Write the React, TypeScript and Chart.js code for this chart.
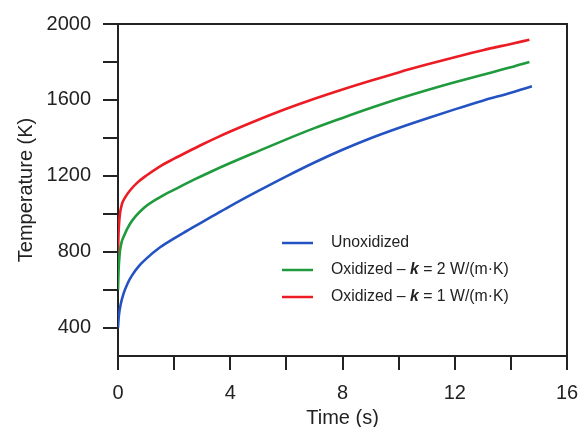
import { useEffect, useRef } from 'react';
import { Chart, registerables } from 'chart.js';
Chart.register(...registerables);

const unoxTime = [0, 0.03, 0.1, 0.2, 0.35, 0.5, 0.75, 1, 1.5, 2, 2.5, 3, 3.5, 4, 5, 6, 7, 8, 9, 10, 11, 12, 13, 14, 14.75];
const unoxTemp = [400, 460, 525, 580, 635, 675, 725, 762, 823, 870, 913, 956, 998, 1040, 1120, 1197, 1270, 1337, 1398, 1452, 1502, 1550, 1596, 1638, 1672];

const k2Time = [0, 0.02, 0.06, 0.12, 0.2, 0.44, 0.91, 1.5, 2.1, 2.69, 3.29, 4, 5, 6, 7, 8, 9, 10, 11, 12, 13, 14, 14.66];
const k2Temp = [600, 700, 790, 845, 879, 950, 1029, 1088, 1134, 1178, 1220, 1267, 1330, 1392, 1451, 1505, 1557, 1606, 1651, 1693, 1733, 1772, 1800];

const k1Time = [0, 0.01, 0.03, 0.07, 0.14, 0.25, 0.44, 0.7, 1, 1.5, 2, 2.5, 3, 3.5, 4, 5, 6, 7, 8, 9, 10, 11, 12, 13, 14, 14.66];
const k1Temp = [750, 850, 930, 1000, 1050, 1085, 1125, 1165, 1200, 1250, 1290, 1328, 1365, 1400, 1433, 1495, 1553, 1606, 1655, 1701, 1745, 1786, 1825, 1862, 1895, 1917];

const xTickValues = [0, 2, 4, 6, 8, 10, 12, 14, 16];
const xLabelValues = [0, 4, 8, 12, 16];
const yTickValues = [400, 600, 800, 1000, 1200, 1400, 1600, 1800, 2000];
const yLabelValues = [400, 800, 1200, 1600, 2000];

const seriesNames = ['Unoxidized', 'Oxidized – k = 2 W/(m·K)', 'Oxidized – k = 1 W/(m·K)'];
const seriesColors = ['#2353c2', '#1f9a3d', '#ec1c24'];

const FONT = '"Liberation Sans", Arial, sans-serif';
const INK = '#222222';

const pts = (t: number[], v: number[]) => t.map((x, i) => ({ x, y: v[i] }));

const framePlugin = {
  id: 'frameAndLegend',
  afterDraw(chart: any) {
    const { ctx, chartArea } = chart;
    const { left, right, top } = chartArea;
    ctx.save();
    ctx.strokeStyle = INK;
    ctx.lineWidth = 2;
    ctx.beginPath();
    ctx.moveTo(left, top);
    ctx.lineTo(right, top);
    ctx.lineTo(right, chartArea.bottom);
    ctx.stroke();

    // legend
    const lx0 = left + 164;
    const lx1 = left + 195;
    const tx = left + 213;
    const rows = [top + 219, top + 246, top + 273];
    const fs = 15.8;
    ctx.textBaseline = 'middle';
    ctx.fillStyle = INK;
    rows.forEach((y, i) => {
      ctx.strokeStyle = seriesColors[i];
      ctx.lineWidth = 2.5;
      ctx.beginPath();
      ctx.moveTo(lx0, y);
      ctx.lineTo(lx1, y);
      ctx.stroke();
      const name = seriesNames[i];
      const kIdx = name.indexOf('k =');
      let x = tx;
      if (kIdx < 0) {
        ctx.font = `${fs}px ${FONT}`;
        ctx.fillText(name, x, y);
      } else {
        const a = name.slice(0, kIdx);
        const b = 'k';
        const c = name.slice(kIdx + 1);
        ctx.font = `${fs}px ${FONT}`;
        ctx.fillText(a, x, y);
        x += ctx.measureText(a).width;
        ctx.font = `italic bold ${fs}px ${FONT}`;
        ctx.fillText(b, x, y);
        x += ctx.measureText(b).width;
        ctx.font = `${fs}px ${FONT}`;
        ctx.fillText(c, x, y);
      }
    });
    ctx.restore();
  },
};

export default function App() {
  const ref = useRef<HTMLCanvasElement>(null);
  useEffect(() => {
    if (!ref.current) return;
    const chart = new Chart(ref.current, {
      type: 'line',
      data: {
        datasets: [
          { label: seriesNames[0], data: pts(unoxTime, unoxTemp), borderColor: seriesColors[0] },
          { label: seriesNames[1], data: pts(k2Time, k2Temp), borderColor: seriesColors[1] },
          { label: seriesNames[2], data: pts(k1Time, k1Temp), borderColor: seriesColors[2] },
        ].map((d) => ({ ...d, borderWidth: 2.6, pointRadius: 0, fill: false, cubicInterpolationMode: 'monotone' as const })),
      },
      options: {
        animation: false,
        responsive: false,
        devicePixelRatio: 1,
        layout: { padding: { top: 24, right: 12, left: 0, bottom: 0 } },
        plugins: { legend: { display: false }, tooltip: { enabled: false } },
        scales: {
          x: {
            type: 'linear',
            min: 0,
            max: 16,
            afterFit: (s: any) => {
              s.height = 71;
              s.paddingLeft = 0;
              s.paddingRight = 0;
            },
            afterBuildTicks: (s: any) => { s.ticks = xTickValues.map((value) => ({ value })); },
            grid: { drawOnChartArea: false, drawTicks: true, tickLength: 14, color: INK, lineWidth: 2 },
            border: { display: true, color: INK, width: 2 },
            ticks: {
              color: INK,
              font: { family: FONT, size: 20 },
              padding: 11,
              maxRotation: 0,
              autoSkip: false,
              callback: (v: any) => (xLabelValues.includes(Number(v)) ? String(v) : ''),
            },
            title: { display: true, text: 'Time (s)', color: INK, font: { family: FONT, size: 20 }, padding: { top: 0, bottom: -3 } },
          },
          y: {
            type: 'linear',
            min: 250,
            max: 2000,
            afterFit: (s: any) => {
              s.width = 118;
              s.paddingTop = 0;
              s.paddingBottom = 0;
            },
            afterBuildTicks: (s: any) => { s.ticks = yTickValues.map((value) => ({ value })); },
            grid: { drawOnChartArea: false, drawTicks: true, tickLength: 15, color: INK, lineWidth: 2 },
            border: { display: true, color: INK, width: 2 },
            ticks: {
              color: INK,
              font: { family: FONT, size: 20 },
              padding: 12,
              autoSkip: false,
              callback: (v: any) => (yLabelValues.includes(Number(v)) ? String(v) : ''),
            },
            title: { display: true, text: 'Temperature (K)', color: INK, font: { family: FONT, size: 20 }, padding: { top: 14, bottom: 0 } },
          },
        },
      },
      plugins: [framePlugin],
    });
    return () => chart.destroy();
  }, []);
  return (
    <div style={{ position: 'fixed', left: 0, top: 0, width: 579, height: 427, background: '#fff' }}>
      <canvas ref={ref} width={579} height={427} />
    </div>
  );
}
